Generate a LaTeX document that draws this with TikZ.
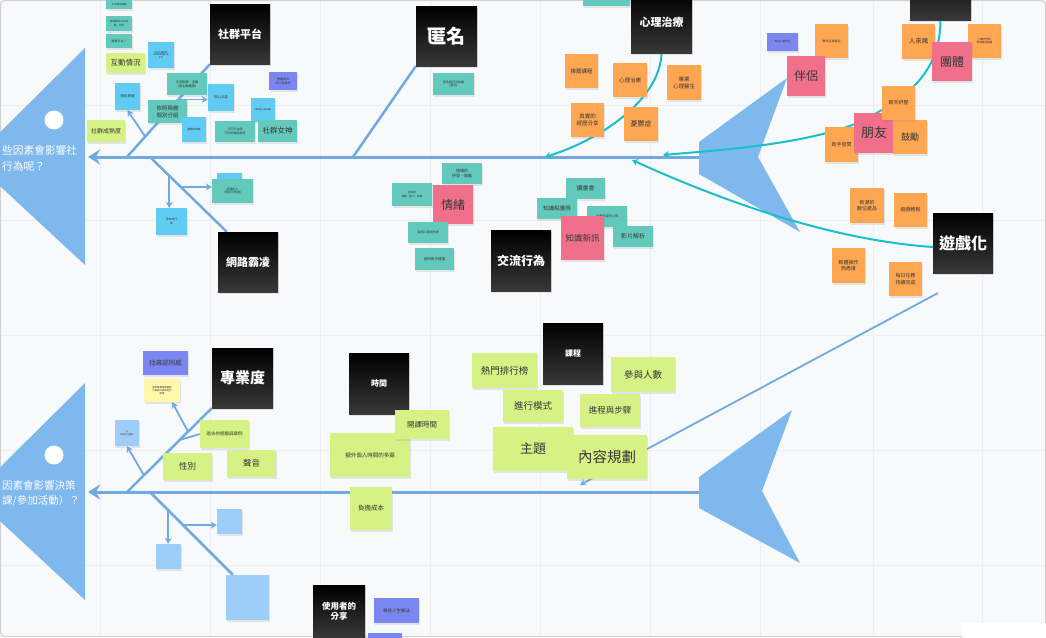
\documentclass[tikz,border=0pt]{standalone}
\usepackage{fontspec}
\setmainfont{Noto Sans CJK TC}
\usetikzlibrary{arrows.meta,positioning,calc,shadows,backgrounds}
\definecolor{paper}{RGB}{248,249,251}
\definecolor{gridc}{RGB}{236,238,242}
\definecolor{bonec}{RGB}{112,170,226}
\definecolor{fishc}{RGB}{126,184,236}
\definecolor{curvec}{RGB}{24,192,204}
\definecolor{tealn}{RGB}{98,201,188}
\definecolor{skyn}{RGB}{96,204,244}
\definecolor{palen}{RGB}{158,206,248}
\definecolor{limen}{RGB}{214,241,132}
\definecolor{orangen}{RGB}{255,166,82}
\definecolor{pinkn}{RGB}{240,112,140}
\definecolor{violetn}{RGB}{124,134,240}
\definecolor{creamn}{RGB}{255,248,170}
\definecolor{inkc}{RGB}{55,55,55}
\tikzset{
  >={Stealth[length=6pt,width=7pt]},
  note/.style={inner sep=0.5pt, align=center, text=inkc,
    drop shadow={opacity=0.18,shadow xshift=0.5pt,shadow yshift=-1.5pt}},
  sz/.style 2 args={minimum width=#1, minimum height=#2},
  fz/.code={\pgfmathsetmacro\fzl{#1*1.25}%
    \edef\fzdo{\noexpand\tikzset{font=\noexpand\fontsize{#1}{\fzl}\noexpand\selectfont}}\fzdo},
  fb/.code={\pgfmathsetmacro\fzl{#1*1.2}%
    \edef\fzdo{\noexpand\tikzset{font=\noexpand\fontsize{#1}{\fzl}\noexpand\selectfont\noexpand\bfseries}}\fzdo},
  bk/.style={note, top color=black, bottom color=black!78, text=white},
  tl/.style={note, fill=tealn},
  sk/.style={note, fill=skyn},
  pl/.style={note, fill=palen},
  lm/.style={note, fill=limen},
  og/.style={note, fill=orangen},
  pk/.style={note, fill=pinkn},
  vt/.style={note, fill=violetn},
  crm/.style={note, fill=creamn},
  spine/.style={draw=bonec, line width=3pt},
  bone/.style={draw=bonec, line width=2.5pt},
  twig/.style={draw=bonec, line width=1.8pt},
  vine/.style={draw=curvec, line width=2pt},
  headtxt/.style={text=white, align=left, inner sep=0pt}
}
\begin{document}
\begin{tikzpicture}[x=1pt,y=-1pt]
\useasboundingbox (0,0) rectangle (1046,637);
\clip (0,0) rectangle (1046,637);

% ---- upper fish: social platform notes
\node[tl, sz={26}{9}, fz=2.5] (t1) at (119,4.5) {平台使用經驗};
\node[tl, sz={26}{15}, fz=2.6] (t2) at (119,23.5) {搜尋資訊平台的\\量、分析};
\node[tl, sz={26}{14}, fz=3] (t3) at (119,41) {選擇平台？};
\node[lm, sz={39}{20}, fz=7.5] (hd) at (125.5,63) {互動情況};
\node[sk, sz={26}{26}, fz=2.2] (s1) at (161,55) {不同主題會有\\不同的資源分享\\平台};
\node[sk, sz={25}{27}, fz=3.5] (ys) at (127.5,96.5) {隱私保護};
\node[tl, sz={40}{22}, fz=3.2] (jl) at (187,84) {交流知識、活動\\(被主動邀請)};
\node[tl, sz={39}{23}, fz=5.5] (xq) at (167.5,111.5) {依照興趣\\個別分組};
\node[sk, sz={26}{27}, fz=3.5] (hx) at (221,97.5) {核心交談};
\node[sk, sz={24}{25}, fz=2.6] (s2) at (194,129.5) {需要的資源};
\node[vt, sz={28}{18}, fz=3] (yy) at (283,81) {營運看法\\的介面操作};
\node[sk, sz={24}{24}, fz=2.2] (s3) at (263,110) {看到別人的回覆};
\node[tl, sz={40}{21}, fz=3] (bt) at (235,131.5) {不同平台間\\不同的連結程度};
\node[tl, sz={39}{22}, fz=7.5] (ns) at (277.5,131) {社群女神};
\node[lm, sz={38}{22}, fz=6] (sc) at (106,131) {社群成熟度};
\node[bk, sz={60}{60}, fb=11] (pf) at (240,34) {社群平台};

% anonymity, therapy
\node[bk, sz={61}{60}, fb=19] (nm) at (446.5,36) {匿名};
\node[tl, sz={41}{22}, fz=3] (nt) at (453.5,84) {匿名聊天沒負擔\\(匿名)};
\node[tl, sz={47}{26}] (tt) at (606.5,-7) {};
\node[bk, sz={61}{61}, fb=11] (xl) at (661.5,22.5) {心理治療};
\node[og, sz={33}{34}, fz=5.5] (o1) at (581.5,71) {推薦課程};
\node[og, sz={34}{34}, fz=5.5] (o2) at (630,80) {心理治療};
\node[og, sz={34}{35}, fz=5.5] (o3) at (684,82.5) {專業\\心理醫生};
\node[og, sz={33}{34}, fz=5.5] (o4) at (587.5,120) {真實的\\經歷分享};
\node[og, sz={34}{34}, fz=7] (o5) at (641,124) {憂鬱症};

% partners, groups, friends
\node[vt, sz={31}{18}, fz=2.6] (v1) at (782.5,42) {尋找心靈伴侶};
\node[og, sz={33}{34}, fz=3] (o6) at (831.5,41) {夥伴互相督促};
\node[pk, sz={38}{40}, fz=12] (bl) at (806,76) {伴侶};
\node[bk, sz={61}{60}] (gp) at (940.5,-10) {};
\node[og, sz={33}{35}, fz=6.5] (o7) at (918.5,41.5) {人來瘋};
\node[og, sz={33}{34}, fz=2.6] (o8) at (984.5,41) {小夥伴們的\\學習進度回饋};
\node[pk, sz={40}{39}, fz=12] (tp) at (952,61.5) {團體};
\node[og, sz={33}{35}, fz=5] (o11) at (841.5,144.5) {新手發問};
\node[pk, sz={40}{40}, fz=13] (py) at (874,133) {朋友};
\node[og, sz={34}{34}, fz=9] (o10) at (910,137) {鼓勵};
\node[og, sz={33}{34}, fz=5] (o9) at (898.5,103) {聊天紓壓};

% emotion, exchange
\node[tl, sz={40}{21}, fz=4] (e1) at (462,173.5) {情緒的\\抒發・鼓勵};
\node[tl, sz={40}{23}, fz=2.6] (e2) at (412,194.5) {發洩的\\情緒・壓力・焦慮};
\node[pk, sz={40}{39}, fz=12] (qx) at (453,204.5) {情緒};
\node[tl, sz={40}{21}, fz=3] (e3) at (428,232.5) {每個人都很熱情};
\node[tl, sz={39}{22}, fz=3.5] (e4) at (434.5,259) {適時給予建議};
\node[bk, sz={60}{61}, fb=12] (jx) at (521,260.5) {交流行為};
\node[tl, sz={39}{21}, fz=6] (k1) at (585.5,188.5) {讀書會};
\node[tl, sz={40}{21}, fz=5.5] (k2) at (557,208.5) {知識點獲得};
\node[tl, sz={40}{21}, fz=3.2] (k3) at (607,216.5) {分享各自的心得};
\node[pk, sz={43}{44}, fz=8.5] (zx) at (582.5,238) {知識新訊};
\node[tl, sz={40}{21}, fz=6] (k4) at (633,236.5) {影片解析};

% gamification
\node[og, sz={34}{35}, fz=5] (r1) at (867,205.5) {新潮的\\數位產品};
\node[og, sz={33}{34}, fz=5] (r2) at (910.5,210) {遊戲輕鬆};
\node[bk, sz={60}{60}, fb=16] (yx) at (963,243) {遊戲化};
\node[og, sz={33}{35}, fz=5] (r3) at (848.5,265.5) {軟體操作\\熟悉度};
\node[og, sz={33}{34}, fz=5] (r4) at (905.5,279) {每日任務\\持續完成};

% cyberbullying
\node[sk, sz={25}{12}] (w0) at (229.5,179) {};
\node[tl, sz={41}{24}, fz=3] (w1) at (232.5,191) {認識的人\\(保持可信度)};
\node[sk, sz={31}{27}, fz=2.8] (w2) at (171.5,221.5) {發佈的行\\為};
\node[bk, sz={60}{60}, fb=11] (wl) at (248,262) {網路霸凌};

% ---- lower fish: expertise
\node[vt, sz={45}{24}, fz=6.5] (rt) at (165.5,363) {找尋認同感};
\node[crm, sz={36}{23}, fz=2.4] (cy) at (162,390.5) {我的專業度需要被\\大家認可與肯定的\\感覺};
\node[bk, sz={61}{60}, fb=15] (zy) at (242.5,378) {專業度};
\node[pl, sz={24}{26}, fz=2.2] (b1) at (127,433) {在\\特定的人面前};
\node[lm, sz={49}{28}, fz=4.5] (gq) at (224.5,434) {過去的經驗與案例};
\node[lm, sz={49}{27}, fz=8.5] (xb) at (187.5,466.5) {性別};
\node[lm, sz={49}{27}, fz=8.5] (sy) at (251.5,463.5) {聲音};

% time
\node[bk, sz={60}{61}, fb=8] (sj) at (379,383.5) {時間};
\node[lm, sz={80}{44}, fz=5.5] (ew) at (370,455) {額外個人時間的多寡};
\node[lm, sz={54}{29}, fz=7.5] (kt) at (422,424.5) {開課時間};
\node[lm, sz={42}{43}, fz=6.5] (fd) at (371,508.5) {負擔成本};

% course
\node[bk, sz={60}{61}, fb=8] (kc) at (573,353.5) {課程};
\node[lm, sz={65}{35}, fz=9.5] (hm) at (504.5,370.5) {熱門排行榜};
\node[lm, sz={64}{35}, fz=9.5] (cr) at (643,374.5) {參與人數};
\node[lm, sz={60}{32}, fz=9.5] (jm) at (533,406) {進行模式};
\node[lm, sz={60}{33}, fz=8.5] (jb) at (610,410.5) {進程與步驟};
\node[lm, sz={80}{44}, fz=13] (zt) at (533,449) {主題};
\node[lm, sz={80}{44}, fz=14.5] (nr) at (607,457) {內容規劃};

% user sharing
\node[pl, sz={25}{25}] (b2) at (229.5,521.5) {};
\node[pl, sz={25}{25}] (b3) at (168.5,556.5) {};
\node[pl, sz={43}{45}] (b4) at (247.5,597.5) {};
\node[bk, sz={52}{52}, fb=8.5] (us) at (339,611) {使用者的\\分享};
\node[vt, sz={45}{25}, fz=4.5] (v2) at (396.5,610.5) {尋找人生解法};
\node[vt, sz={34}{17}] (v3) at (385,641.5) {};
\node[fill=white, sz={84}{16}] (wb) at (1004,631) {};

\begin{pgfonlayer}{background}
  % board
  \fill[paper] (0,0) rectangle (1046,637);
  \foreach \gx in {100,210,320,430,540,650,760,873,982}
    \draw[gridc, line width=0.8pt] (\gx,0) -- (\gx,637);
  \foreach \gy in {105,220,335,450,565}
    \draw[gridc, line width=0.8pt] (0,\gy) -- (1046,\gy);
  \draw[gray!35, line width=1pt, rounded corners=4pt] (0.5,0.5) rectangle (1045.5,636.5);

  % heads and tails
  \fill[fishc] (85,48) -- (-28,160) -- (85,265) -- cycle;
  \fill[white] (54,120) circle (9.5);
  \node[headtxt, anchor=west, font=\fontsize{10.7}{16}\selectfont] (q1) at (2,158) {些因素會影響社\\行為呢？};
  \fill[fishc] (787,78) -- (699,142) -- (699,174) -- (800,232) -- (758,157) -- cycle;
  \fill[fishc] (85,383) -- (-28,495) -- (85,600) -- cycle;
  \fill[white] (54,455) circle (9.5);
  \node[headtxt, anchor=west, font=\fontsize{10.5}{15}\selectfont] (q2) at (2,493.5) {因素會影響決策\\課/參加活動）？};
  \fill[fishc] (792,410) -- (699,477) -- (699,508) -- (800,563) -- (762,491) -- cycle;

  % upper spine and bones
  \coordinate (tl1) at (699,157);
  \coordinate (hd1) at (88,157);
  \coordinate (j1) at (127,157);
  \coordinate (j2) at (353,157);
  \coordinate (j4) at (150,157);
  \draw[spine, -{Stealth[length=12pt,width=15pt,inset=4pt]}] (tl1) -- (hd1);
  \draw[bone] (j1) -- (pf.south west);
  \draw[twig, ->] ($(j1)!0.22!(pf.south west)$) -- (ys.south);
  \draw[twig, ->] ($(j1)!0.62!(pf.south west)$) coordinate (ja) -- (ja -| hx.west);
  \draw[bone] (j2) -- (nm.south west);
  \draw[bone] (j4) -- ([xshift=9pt]wl.north west);
  \draw[twig, ->] ($(j4)!0.25!([xshift=9pt]wl.north west)$) coordinate (jb) -- (jb |- w2.north);
  \draw[twig, ->] ($(j4)!0.4!([xshift=9pt]wl.north west)$) coordinate (jc) -- (jc -| w1.west);

  % teal links into the upper spine
  \coordinate (c1) at (545,157);
  \coordinate (c2) at (663,155);
  \coordinate (c3) at (632,160);
  \draw[vine, ->] (xl.south) .. controls (660,100) and (600,140) .. (c1);
  \draw[vine, ->] (gp.south) .. controls (940,75) and (905,100) .. (855,124)
    .. controls (800,145) and (720,150) .. (c2);
  \draw[vine, ->] ([yshift=-4pt]yx.west) .. controls (830,240) and (720,200) .. (c3);

  % lower spine and bones
  \coordinate (tl2) at (699,492);
  \coordinate (hd2) at (88,492);
  \coordinate (j3) at (127,492);
  \coordinate (j5) at (150,492);
  \draw[spine, -{Stealth[length=12pt,width=15pt,inset=4pt]}] (tl2) -- (hd2);
  \draw[bone] (j3) -- (zy.south west);
  \draw[twig, ->] ($(j3)!0.72!(zy.south west)$) -- ([xshift=-8pt]cy.south east);
  \draw[twig] ($(j3)!0.62!(zy.south west)$) -- (gq.west);
  \draw[twig, ->] ($(j3)!0.2!(zy.south west)$) -- (b1.south);
  \draw[bone] (j5) -- ([xshift=7pt]b4.north west);
  \draw[twig, ->] ($(j5)!0.22!([xshift=7pt]b4.north west)$) coordinate (jd) -- (jd |- b3.north);
  \draw[twig, ->] ($(j5)!0.4!([xshift=7pt]b4.north west)$) coordinate (je) -- (je -| b2.west);

  % long bone from gamification to the lower spine
  \coordinate (gd) at (938,293);
  \coordinate (ge) at (580,485);
  \draw[twig, ->] (gd) -- (ge);
\end{pgfonlayer}
\end{tikzpicture}
\end{document}
